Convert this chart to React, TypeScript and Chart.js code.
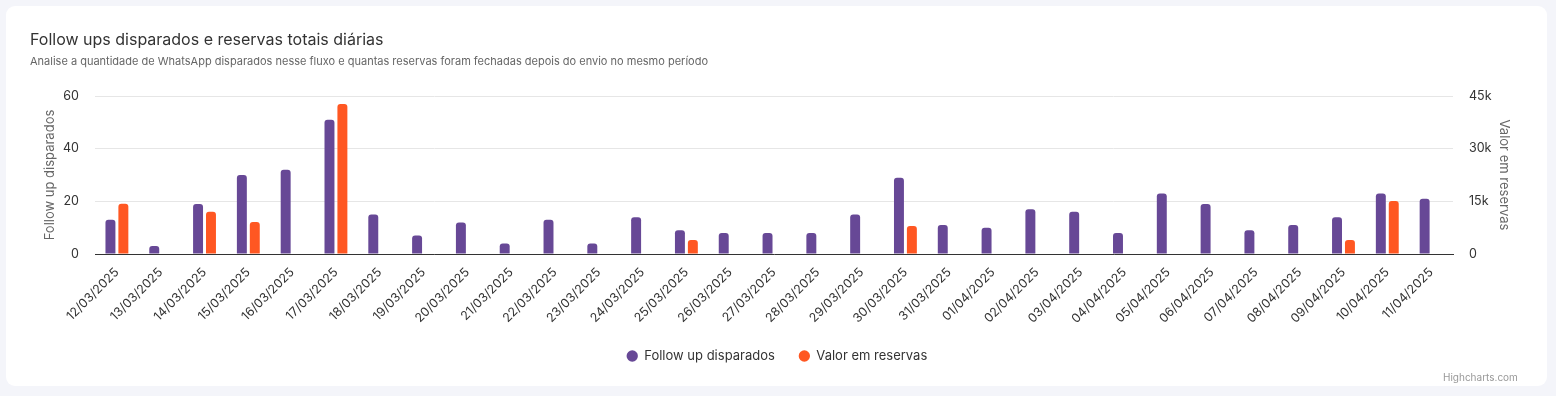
import React, { useEffect, useRef } from 'react';
import { Chart, registerables } from 'chart.js';

Chart.register(...registerables);

const categories = [
  '12/03/2025', '13/03/2025', '14/03/2025', '15/03/2025', '16/03/2025', '17/03/2025',
  '18/03/2025', '19/03/2025', '20/03/2025', '21/03/2025', '22/03/2025', '23/03/2025',
  '24/03/2025', '25/03/2025', '26/03/2025', '27/03/2025', '28/03/2025', '29/03/2025',
  '30/03/2025', '31/03/2025', '01/04/2025', '02/04/2025', '03/04/2025', '04/04/2025',
  '05/04/2025', '06/04/2025', '07/04/2025', '08/04/2025', '09/04/2025', '10/04/2025',
  '11/04/2025',
];

const followUps = [
  13, 3, 19, 30, 32, 51, 15, 7, 12, 4, 13, 4, 14, 9, 8, 8, 8, 15, 29, 11, 10, 17, 16, 8,
  23, 19, 9, 11, 14, 23, 21,
];

const reservas: (number | null)[] = [
  14300, null, 12000, 9100, null, 42700, null, null, null, null, null, null, null, 4000,
  null, null, null, null, 8000, null, null, null, null, null, null, null, null, null,
  4000, 15100, null,
];

const leftTicks = [0, 20, 40, 60];
const rightTicks = [0, 15000, 30000, 45000];

const titleText = 'Follow ups disparados e reservas totais diárias';
const subtitleText =
  'Analise a quantidade de WhatsApp disparados nesse fluxo e quantas reservas foram fechadas depois do envio no mesmo período';
const seriesNames = ['Follow up disparados', 'Valor em reservas'];
const axisTitles = ['Follow up disparados', 'Valor em reservas'];

const PURPLE = '#674896';
const ORANGE = '#ff5722';
const FONT = 'Inter, "Noto Sans", sans-serif';

export default function App() {
  const canvasRef = useRef<HTMLCanvasElement | null>(null);

  useEffect(() => {
    const canvas = canvasRef.current;
    if (!canvas) return;
    Chart.defaults.font.family = FONT;
    const chart = new Chart(canvas, {
      type: 'bar',
      data: {
        labels: categories,
        datasets: [
          {
            label: seriesNames[0],
            data: followUps,
            backgroundColor: PURPLE,
            borderWidth: 0,
            borderRadius: 3,
            yAxisID: 'y',
            categoryPercentage: 0.59,
            barPercentage: 0.77,
          },
          {
            label: seriesNames[1],
            data: reservas,
            backgroundColor: ORANGE,
            borderWidth: 0,
            borderRadius: 3,
            yAxisID: 'y1',
            categoryPercentage: 0.59,
            barPercentage: 0.77,
          },
        ],
      },
      options: {
        responsive: false,
        animation: false,
        layout: { padding: { left: 30, right: 32, top: 30, bottom: 23.5 } },
        plugins: {
          title: {
            display: true,
            text: titleText,
            align: 'start',
            color: '#333333',
            font: { size: 16, weight: 'normal', family: FONT },
            padding: { top: 1, bottom: 0 },
          },
          subtitle: {
            display: true,
            text: subtitleText,
            align: 'start',
            color: '#666666',
            font: { size: 11, weight: 'normal', family: FONT },
            padding: { top: 5, bottom: 27.6 },
          },
          legend: {
            display: true,
            position: 'bottom',
            align: 'center',
            labels: {
              usePointStyle: true,
              pointStyle: 'circle',
              boxWidth: 11,
              boxHeight: 8,
              padding: 24,
              color: '#333333',
              font: { size: 13, family: FONT },
            },
          },
          tooltip: { enabled: false },
        },
        scales: {
          x: {
            grid: { display: false, drawTicks: false },
            border: { display: true, color: '#333333', width: 1 },
            ticks: {
              autoSkip: false,
              maxRotation: 45,
              minRotation: 45,
              padding: 11,
              color: '#333333',
              font: { size: 12.5, family: FONT },
            },
            afterFit: (scale: any) => {
              scale.height = 71.5;
              scale.paddingLeft = 0;
              scale.paddingRight = 0;
            },
          },
          y: {
            position: 'left',
            min: 0,
            max: 60,
            afterBuildTicks: (scale: any) => {
              scale.ticks = leftTicks.map((v) => ({ value: v }));
            },
            grid: { color: '#e6e6e6', drawTicks: false },
            border: { display: false },
            ticks: {
              padding: 16,
              color: '#333333',
              font: { size: 12.5, family: FONT },
            },
            title: {
              display: true,
              text: axisTitles[0],
              color: '#666666',
              font: { size: 13, family: FONT },
              padding: { top: 12, bottom: 0 },
            },
            afterFit: (scale: any) => {
              scale.width = 65;
            },
          },
          y1: {
            position: 'right',
            min: 0,
            max: 45000,
            afterBuildTicks: (scale: any) => {
              scale.ticks = rightTicks.map((v) => ({ value: v }));
            },
            grid: { drawOnChartArea: false, drawTicks: false },
            border: { display: false },
            ticks: {
              padding: 16,
              color: '#333333',
              font: { size: 12.5, family: FONT },
              callback: (v: any) => (Number(v) === 0 ? '0' : Number(v) / 1000 + 'k'),
            },
            title: {
              display: true,
              text: axisTitles[1],
              color: '#666666',
              font: { size: 13, family: FONT },
              padding: { top: 12, bottom: 0 },
            },
            afterFit: (scale: any) => {
              scale.width = 71;
            },
          },
        },
      },
    });
    return () => chart.destroy();
  }, []);

  return (
    <div
      style={{
        position: 'fixed',
        left: 0,
        top: 0,
        width: 1556,
        height: 396,
        background: '#f4f5fa',
        overflow: 'hidden',
      }}
    >
      <div
        style={{
          position: 'absolute',
          left: 6,
          top: 6,
          width: 1541,
          height: 380,
          background: '#ffffff',
          borderRadius: 9,
        }}
      />
      <canvas
        ref={canvasRef}
        width={1556}
        height={396}
        style={{ position: 'absolute', left: 0, top: 0, width: 1556, height: 396 }}
      />
      <div
        style={{
          position: 'absolute',
          left: 1443,
          top: 371,
          fontFamily: FONT,
          fontSize: 10,
          lineHeight: '12px',
          color: '#999999',
          whiteSpace: 'nowrap',
        }}
      >
        Highcharts.com
      </div>
    </div>
  );
}
